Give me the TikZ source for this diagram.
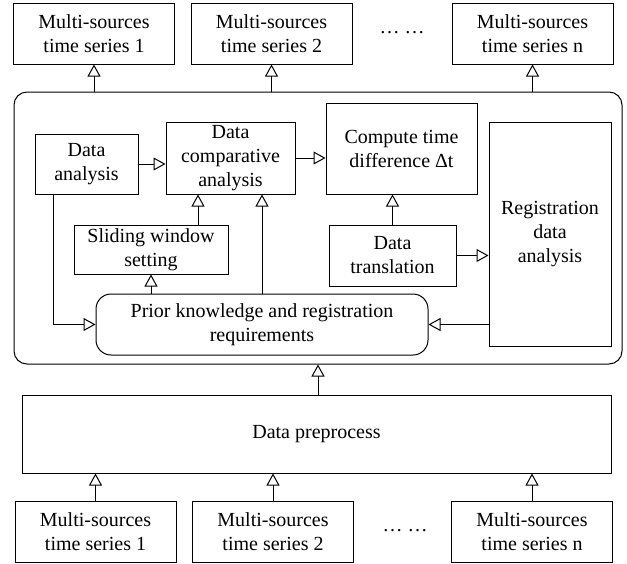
\documentclass[tikz,border=0pt]{standalone}
\usepackage{fontspec}
\setmainfont{Liberation Serif}
\usetikzlibrary{arrows.meta,calc}

\begin{document}
\begin{tikzpicture}[x=1pt,y=-1pt,
      box/.style={draw,line width=1pt,inner sep=0pt,align=center,
                  font=\fontsize{20}{24}\selectfont},
      src/.style={box,minimum width=161pt,minimum height=61pt},
      arr/.style={-{Triangle[open,length=12pt,width=13pt]},line width=1pt}]
    \useasboundingbox (0,0) rectangle (627,563);
    % outputs
    \node[src] (out1) at (94,33.5) {Multi-sources\\ time series 1};
    \node[src] (out2) at (271.5,33.5) {Multi-sources\\ time series 2};
    \node[src] (outn) at (532.5,33.5) {Multi-sources\\ time series n};
    \node[font=\fontsize{20}{24}\selectfont] (outdots) at (402,33) {… …};
    % registration core
    \node[box,rounded corners=13pt,minimum width=608pt,minimum height=272pt] (core) at (318,228) {};
    \node[box,minimum width=103pt,minimum height=60pt] (ana) at (86.5,164) {Data\\ analysis};
    \node[box,minimum width=129pt,minimum height=72pt] (cmp) at (230.5,158) {Data\\ comparative\\ analysis};
    \node[box,minimum width=151pt,minimum height=91pt] (dt) at (401.5,148.5) {Compute time\\ difference Δt};
    \node[box,minimum width=154pt,minimum height=49pt] (win) at (151,249.5) {Sliding window\\ setting};
    \node[box,minimum width=127pt,minimum height=61pt] (trans) at (392.5,255.5) {Data\\ translation};
    \node[box,minimum width=122pt,minimum height=224pt] (reg) at (550,234) {Registration\\ data\\ analysis};
    \node[box,rounded corners=15pt,minimum width=332pt,minimum height=61pt] (prior) at (262,324.5) {Prior knowledge and registration\\ requirements};
    \node[box,minimum width=589pt,minimum height=78pt] (pre) at (316.5,434) {Data preprocess};
    % inputs
    \node[src] (in1) at (95.5,531.5) {Multi-sources\\ time series 1};
    \node[src] (in2) at (273,531.5) {Multi-sources\\ time series 2};
    \node[src] (inn) at (532,531.5) {Multi-sources\\ time series n};
    \node[font=\fontsize{20}{24}\selectfont] (indots) at (405,531) {… …};

    \draw[arr] (in1) -- (in1 |- pre.south);
    \draw[arr] (in2) -- (in2 |- pre.south);
    \draw[arr] (inn) -- (inn |- pre.south);
    \draw[arr] (core.south |- pre.north) -- (core.south);
    \draw[arr] (out1 |- core.north) -- (out1);
    \draw[arr] (out2 |- core.north) -- (out2);
    \draw[arr] (outn |- core.north) -- (outn);

    \draw[arr] (ana.east) -- (ana.east -| cmp.west);
    \draw[arr] (cmp.east) -- (cmp.east -| dt.west);
    \draw[arr] ([xshift=47pt]win.north) -- ([xshift=47pt]win.north |- cmp.south);
    \draw[arr] (win.south |- prior.north) -- (win.south);
    \draw[arr] (prior.north) -- (prior.north |- cmp.south);
    \draw[arr] ([xshift=-33.5pt]ana.south) |- (prior.west);
    \draw[arr] (trans.north) -- (trans.north |- dt.south);
    \draw[arr] (trans.east) -- (trans.east -| reg.west);
    \draw[arr] (reg.west |- prior.east) -- (prior.east);
  \end{tikzpicture}
\end{document}
